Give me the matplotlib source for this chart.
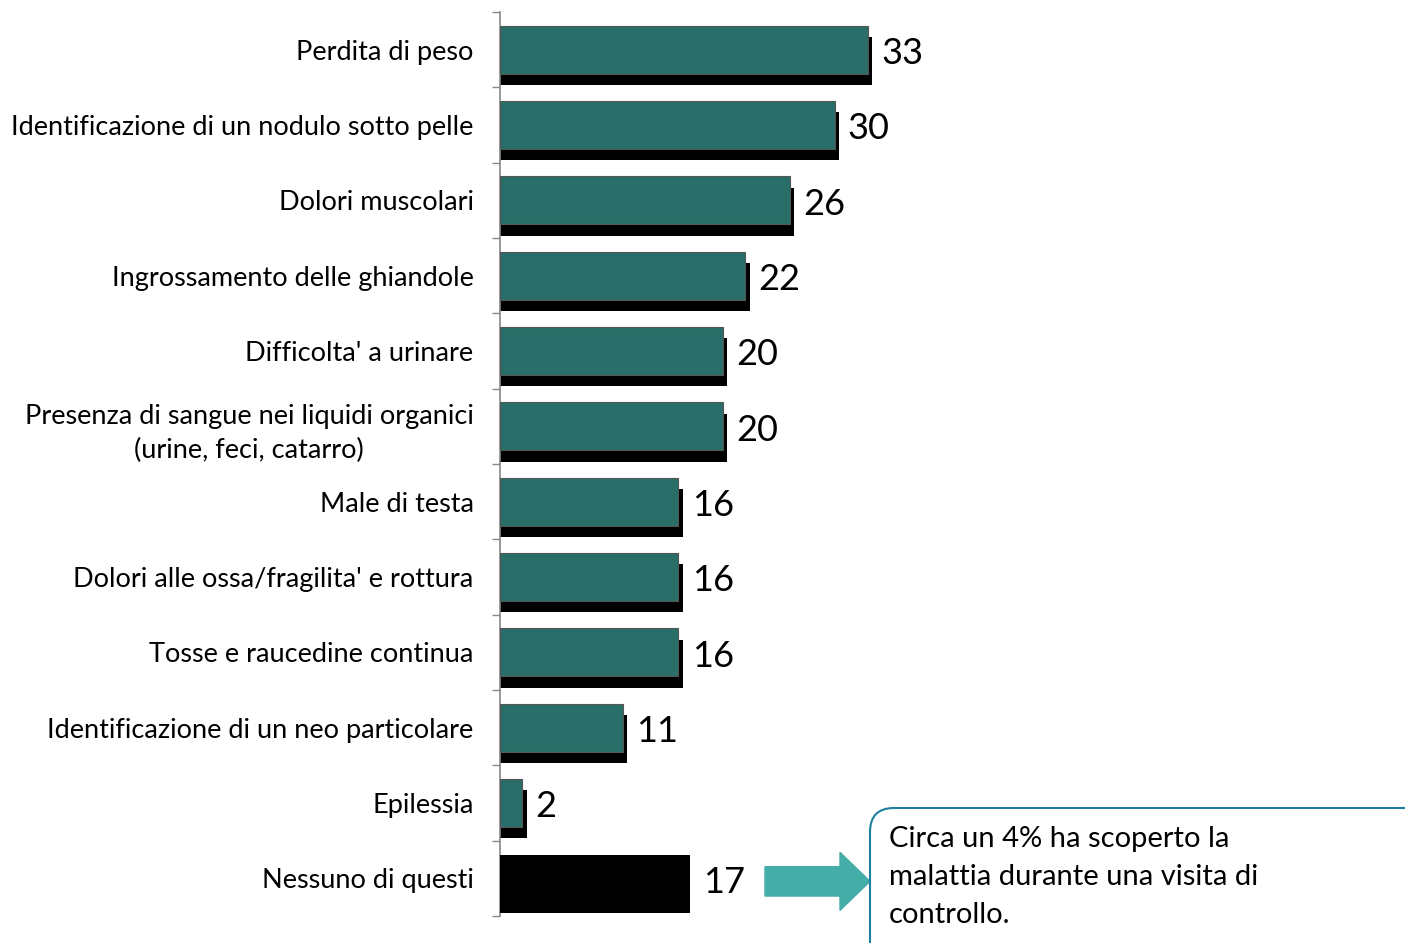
import matplotlib.pyplot as plt
from matplotlib.patches import FancyBboxPatch, FancyArrow
from matplotlib.transforms import IdentityTransform

plt.rcParams['font.family'] = ['Lato', 'DejaVu Sans']

categories = ['Perdita di peso',
              'Identificazione di un nodulo sotto pelle',
              'Dolori muscolari',
              'Ingrossamento delle ghiandole',
              "Difficolta' a urinare",
              'Presenza di sangue nei liquidi organici\n(urine, feci, catarro)',
              'Male di testa',
              "Dolori alle ossa/fragilita' e rottura",
              'Tosse e raucedine continua',
              'Identificazione di un neo particolare',
              'Epilessia',
              'Nessuno di questi']
values = [33, 30, 26, 22, 20, 20, 16, 16, 16, 11, 2, 17]
note = 'Circa un 4% ha scoperto la\nmalattia durante una visita di\ncontrollo.'

teal = '#2a6e69'
n = len(categories)
pos = list(range(n))

fig = plt.figure(figsize=(14.05, 9.43), dpi=100)
ax = fig.add_axes([500 / 1405, 1 - 916 / 943, 900 / 1405, 904 / 943])

# shadow bars (not for the last one)
sh_pos = [p + 0.15 for p in pos[:-1]]
sh_w = [v + 0.4 for v in values[:-1]]
ax.barh(sh_pos, sh_w, height=0.64, color='black', zorder=2)
# face bars
ax.barh(pos[:-1], values[:-1], height=0.64, color=teal, edgecolor='#555555',
        linewidth=0.8, zorder=3)
ax.barh(pos[-1] + 0.08, values[-1], height=0.77, color='black', zorder=3)

for p, v in zip(pos, values):
    ax.text(v + 1.2, p + 0.05, str(v), va='center', ha='left', fontsize=26)

ax.set_xlim(0, 900 / 11.15)
ax.set_ylim(n - 0.5, -0.5)
ax.set_yticks(pos)
ax.set_yticklabels(categories, fontsize=19.5)
for t in ax.get_yticklabels():
    t.set_multialignment('center')
    t.set_linespacing(1.45)
ax.set_yticks([p - 0.5 for p in range(n + 1)], minor=True)
ax.tick_params(axis='y', which='major', length=0, pad=19)
ax.tick_params(axis='y', which='minor', length=6, width=1, color='#888888')
ax.set_xticks([])
for s in ['top', 'right', 'bottom']:
    ax.spines[s].set_visible(False)
ax.spines['left'].set_color('#888888')
ax.spines['left'].set_linewidth(1.2)

# arrow
ax.add_patch(FancyArrow(265 / 11.15, n - 1 + 0.04, 75 / 11.15, 0, width=0.39,
                        head_width=0.77, head_length=30 / 11.15,
                        length_includes_head=False, color='#45ada8',
                        clip_on=False, zorder=4))

# callout box in pixel coordinates
box = FancyBboxPatch((870, -60), 620, 943 - 808 + 60,
                     boxstyle='round,pad=0,rounding_size=24',
                     transform=IdentityTransform(), facecolor='white',
                     edgecolor='#1f7fa0', linewidth=1.5, clip_on=False)
fig.patches.append(box)
fig.text(889 / 1405, 1 - 826 / 943, note, ha='left', va='top', fontsize=21,
         linespacing=1.56)

fig.savefig('out.png', dpi=100)
